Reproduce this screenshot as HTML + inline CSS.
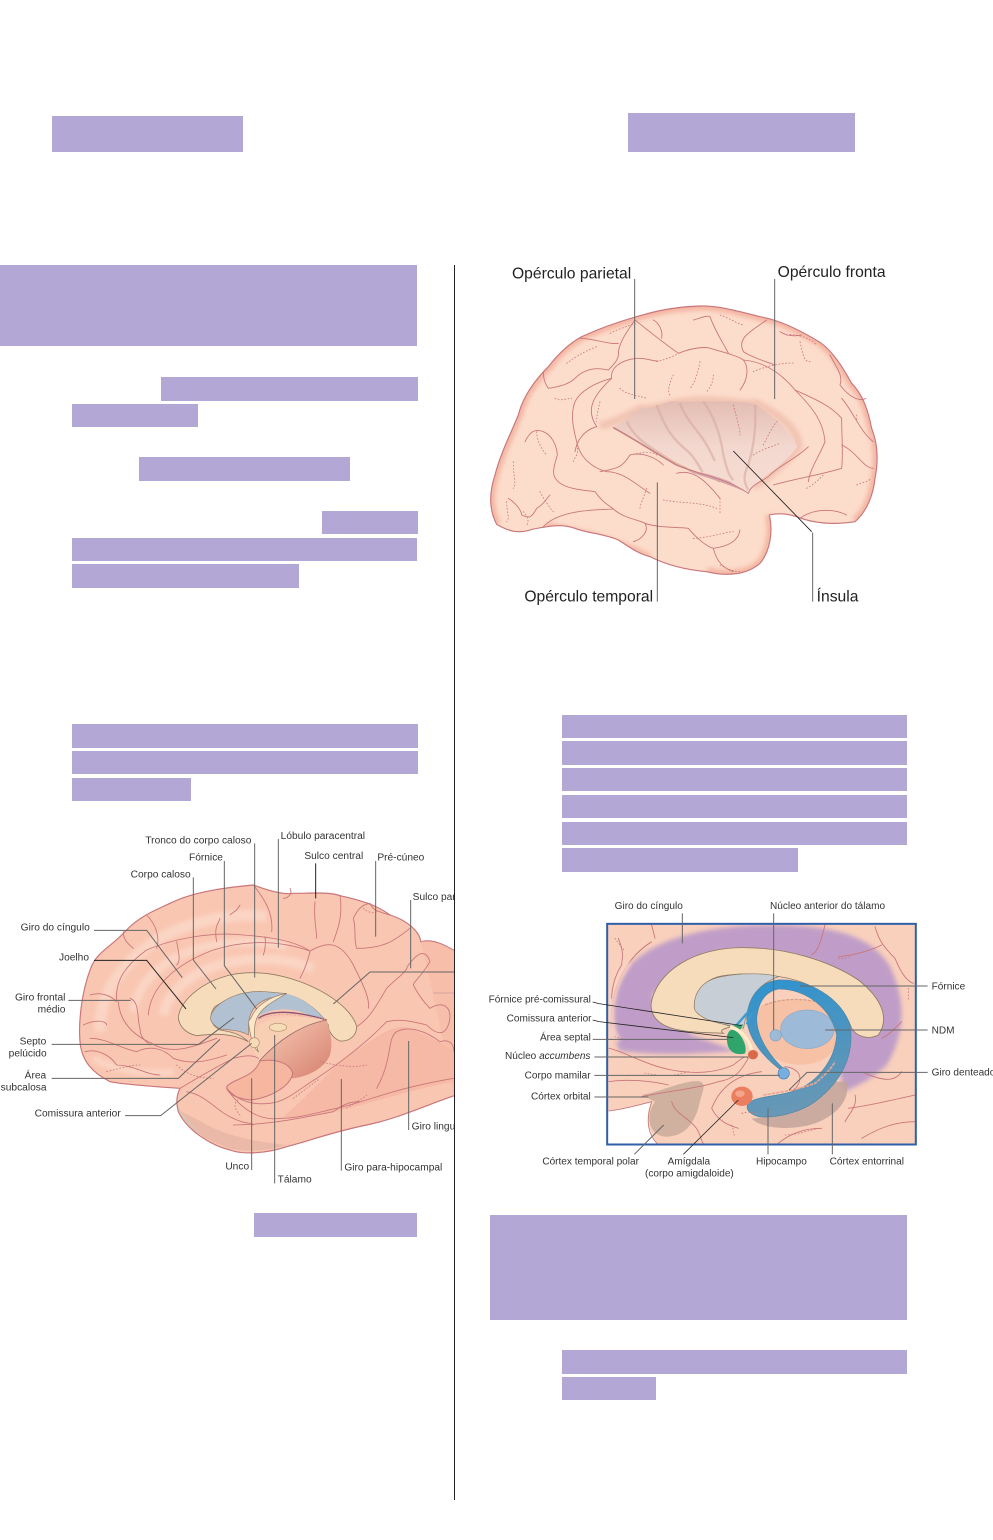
<!DOCTYPE html>
<html><head><meta charset="utf-8"><style>
html,body{margin:0;padding:0;background:#fff}
svg{display:block}
text{font-family:"Liberation Sans",sans-serif;fill:#333}
.r rect{fill:#b3a7d5}
.s{fill:none;stroke:#c9757a;stroke-width:2.6;stroke-linecap:round;stroke-linejoin:round}
.d{fill:none;stroke:#c9757a;stroke-width:2.4;stroke-dasharray:3 7;stroke-linecap:round}
.l{fill:none;stroke:#666;stroke-width:3}
.k{fill:none;stroke:#222;stroke-width:3}
</style></head><body>
<svg width="993" height="1540" viewBox="0 0 993 1540" xmlns="http://www.w3.org/2000/svg">
<defs>
<clipPath id="c1"><path id="b1p" d="M50 808C30 770 25 720 45 660C60 600 90 540 115 480C130 420 170 370 205 335C240 290 270 265 305 245C370 215 430 195 495 178C540 165 600 155 660 153C720 152 780 170 840 185C900 195 960 225 1020 262C1060 290 1090 340 1115 385C1150 420 1165 470 1175 520C1195 570 1195 620 1185 670C1180 720 1160 770 1125 800C1060 810 1000 805 950 785C920 775 890 775 868 780C880 830 870 890 840 925C800 960 740 965 680 950C620 945 560 930 510 905C470 895 440 870 415 855C370 835 320 835 285 820C240 805 200 815 160 822C110 840 80 825 50 808Z"/></clipPath>
<clipPath id="c2"><rect x="0" y="0" width="1362" height="1200"/></clipPath>
<clipPath id="c3"><rect x="368" y="88" width="922" height="659"/></clipPath>
<clipPath id="c4"><rect x="880" y="0" width="336" height="100"/></clipPath>
<filter id="b6" x="-20%" y="-20%" width="140%" height="140%"><feGaussianBlur stdDeviation="6"/></filter>
<filter id="b12" x="-20%" y="-20%" width="140%" height="140%"><feGaussianBlur stdDeviation="7"/></filter>
<linearGradient id="g2" x1="0" y1="0" x2="0" y2="1"><stop offset="0" stop-color="#e3bdb3"/><stop offset=".5" stop-color="#f3d8cf"/><stop offset="1" stop-color="#f6dcd2"/></linearGradient>
<linearGradient id="g4" x1="0" y1="0" x2="1" y2="1"><stop offset="0" stop-color="#f9cdb8"/><stop offset="1" stop-color="#d5806e"/></linearGradient>
<linearGradient id="g5" gradientUnits="userSpaceOnUse" x1="850" y1="250" x2="950" y2="660"><stop offset="0" stop-color="#2f93cf"/><stop offset=".45" stop-color="#4a94c0"/><stop offset="1" stop-color="#6b98b4"/></linearGradient>
</defs>

<g class="r">
<rect x="52" y="116" width="191" height="36"/><rect x="628" y="113" width="227" height="39"/>
<rect x="0" y="265" width="417" height="81"/><rect x="161" y="377" width="257" height="24"/>
<rect x="72" y="404" width="126" height="23"/><rect x="139" y="457" width="211" height="24"/>
<rect x="322" y="511" width="96" height="23"/><rect x="72" y="538" width="345" height="23"/>
<rect x="72" y="564" width="227" height="24"/><rect x="72" y="724" width="346" height="24"/>
<rect x="72" y="751" width="346" height="23"/><rect x="72" y="778" width="119" height="23"/>
<rect x="254" y="1213" width="163" height="24"/>
<rect x="562" y="715" width="345" height="23"/><rect x="562" y="741" width="345" height="24"/>
<rect x="562" y="768" width="345" height="23"/><rect x="562" y="795" width="345" height="23"/>
<rect x="562" y="822" width="345" height="23"/><rect x="562" y="848" width="236" height="24"/>
<rect x="490" y="1215" width="417" height="105"/><rect x="562" y="1350" width="345" height="24"/>
<rect x="562" y="1377" width="94" height="23"/>
</g>
<line x1="454.5" y1="265" x2="454.5" y2="1500" stroke="#222" stroke-width="1"/>

<!-- Lateral brain -->
<g transform="translate(480,255) scale(.33333)">
<use href="#b1p" fill="#fcdccb"/>
<g clip-path="url(#c1)">
<path d="M50 808C30 770 25 720 45 660C60 600 90 540 115 480C130 420 170 370 205 335C240 290 270 265 305 245C370 215 430 195 495 178C540 165 600 155 660 153C720 152 780 170 840 185C900 195 960 225 1020 262C1060 290 1090 340 1115 385C1150 420 1165 470 1175 520C1195 570 1195 620 1185 670C1180 720 1160 770 1125 800" fill="none" stroke="#f4b5a3" stroke-width="26" filter="url(#b6)"/>
<path d="M868 780C880 830 870 890 840 925C800 960 740 965 680 950" fill="none" stroke="#f3b7a3" stroke-width="26" filter="url(#b6)"/>
<path d="M200 810C300 830 400 850 510 905" fill="none" stroke="#f4b5a3" stroke-width="16" filter="url(#b6)"/>
<path d="M360 512C420 500 450 475 480 462C540 465 560 440 640 438C720 430 780 450 830 445C880 470 960 520 955 578C920 620 860 670 820 695" fill="none" stroke="#f2c4b3" stroke-width="24" filter="url(#b6)"/>
</g>
<!-- insula -->
<path d="M400 518C430 500 460 470 482 460C520 462 545 445 575 438C640 445 740 430 830 448C850 470 915 500 952 575C925 615 880 645 835 680C820 690 810 705 805 715C760 690 700 665 640 640C550 600 470 560 400 518Z" fill="url(#g2)"/>
<path d="M530 450C555 520 580 555 625 590C650 615 660 640 668 652M600 445C620 500 655 525 680 570C695 595 700 610 705 618" fill="none" stroke="#d6aaa0" stroke-width="7" opacity=".6"/>
<path d="M670 440C700 480 720 530 730 600C740 640 745 660 760 675M825 450C830 520 820 580 805 630C790 660 790 680 805 705M440 500C460 540 490 565 540 595C565 612 590 628 620 640" fill="none" stroke="#d6aaa0" stroke-width="7" opacity=".6"/>
<path d="M400 518C450 545 520 590 590 630C640 650 680 660 720 680" fill="none" stroke="#c99a95" stroke-width="5"/>
<path d="M620 645C650 650 690 655 750 680L800 712C750 690 690 670 640 655Z" fill="#d4a7ab"/>
<g class="s">
<use href="#b1p" style="stroke-width:3.4"/>
<path d="M400 518C450 545 520 590 590 630C660 660 740 670 805 715"/>
<path d="M805 715C815 685 850 680 870 660C900 630 950 610 985 575M880 690C950 670 1020 660 1085 640M1085 640C1090 590 1085 550 1085 490C1050 450 1000 430 945 405"/>
<path d="M350 515C310 525 290 560 285 590M350 515C320 470 330 430 395 370C390 340 420 315 470 310C500 308 520 320 535 318M595 295C620 285 650 275 685 278C720 290 770 300 790 315C810 340 800 380 780 405"/>
<path d="M790 315C850 320 900 350 945 405C1000 460 1030 500 1035 560C1020 600 990 640 985 680"/>
<path d="M300 250C340 250 390 270 415 265M415 290C420 260 440 230 465 195C520 240 560 270 595 295M415 290C420 310 400 330 385 345M545 250C550 220 530 200 520 195M640 195C660 190 680 180 690 185C710 240 740 280 745 295M860 195C810 230 770 250 790 290C820 310 860 320 885 330M900 230C930 250 960 240 965 240M1050 300C1070 340 1090 360 1080 390C1110 430 1140 440 1158 430"/>
<path d="M385 345C340 335 310 345 285 370C270 385 240 395 205 400C190 380 190 360 190 350M285 440C300 410 340 385 395 370M285 440C270 480 280 520 290 560C300 610 340 640 380 650C430 650 470 690 510 715M135 560C150 530 165 520 190 530C215 540 230 570 232 600C220 640 215 660 230 675C250 700 300 705 345 710C365 740 385 750 400 762C430 790 480 795 495 805C510 830 480 855 460 860M400 762C340 765 280 765 225 790C205 800 190 815 190 815M85 730C110 745 125 770 125 780C145 790 155 790 170 760C190 750 200 730 210 720M495 805C540 820 590 815 625 820C650 850 680 875 700 880C740 875 775 860 780 825M700 880C710 920 730 940 760 950"/>
<path d="M360 650C410 640 425 640 450 600C490 590 530 610 550 630M590 655C640 640 680 680 720 730M1085 570C1130 590 1150 640 1180 640M960 790C1000 760 1060 760 1100 780M1085 430C1120 470 1140 530 1180 560"/>
</g>
<g class="d">
<path d="M760 450C770 490 780 520 780 540M850 570C870 530 880 510 895 495M820 600C850 580 890 570 900 565M530 320C560 312 580 305 595 295M820 350C850 335 920 320 945 325M580 360C570 380 560 410 570 420M660 320C650 370 640 390 630 400M700 360C700 380 690 400 680 410M420 400C440 420 470 420 500 430M225 430C240 440 260 430 275 430M260 325C280 310 310 290 350 275M390 235C420 220 440 215 465 205M720 180C750 190 780 210 790 210M920 240C950 235 990 250 1010 270M960 260C970 300 970 320 990 320M170 530C170 560 190 590 200 600M100 620C100 660 110 690 100 700M180 710C190 730 210 760 220 770M80 740C80 770 90 790 80 800M130 770C140 780 150 800 140 810M290 570C300 600 280 610 280 620M550 735C600 745 660 740 710 760M720 730C720 770 720 770 720 780M640 850C680 850 740 830 760 830M720 930C740 940 760 950 780 950M500 700C490 730 480 750 480 760M980 700C1000 690 1020 670 1030 660M1130 690C1150 680 1170 680 1170 670M1130 480L1130 500M450 600C490 590 520 590 530 600M360 440C350 480 350 490 350 500"/>
</g>
<path class="l" d="M464 72V432M884 72V432M532 682V1040M998 1040V833"/>
<path d="M760 588L995 830" fill="none" stroke="#111" stroke-width="2.4"/>
<g font-size="47">
<text x="96" y="70" style="fill:#222">Opérculo parietal</text>
<text x="893" y="66" style="fill:#222" clip-path="url(#c4)">Opérculo frontal</text>
<text x="133" y="1040" style="fill:#222">Opérculo temporal</text>
<text x="1010" y="1040" style="fill:#222">Ínsula</text>
</g>
</g>

<!-- Medial brain -->
<g transform="translate(0,825) scale(.33333)">
<g clip-path="url(#c2)">
<path d="M240 650C235 590 245 500 272 430C290 380 340 360 375 320C420 270 480 250 510 235C570 205 650 190 760 180C800 195 850 210 880 205C930 205 990 200 1020 212C1080 225 1130 240 1170 270C1220 285 1260 320 1262 350C1300 340 1340 360 1400 400L1400 800C1300 830 1200 880 1100 900C1000 920 920 950 860 965C800 985 730 990 690 975C630 960 560 915 535 860C525 825 535 800 540 790C470 785 380 780 330 770C280 745 245 710 240 650Z" fill="#f9c6b1" stroke="#c9757a" stroke-width="3.5"/>
<g fill="none" stroke="#fcdccd" filter="url(#b6)" opacity=".7">
<path d="M300 620C295 500 380 400 480 340C570 290 700 260 800 275" stroke-width="34"/>
<path d="M400 560C410 480 480 410 580 375C680 345 790 345 860 365" stroke-width="26"/>
<path d="M490 570C505 490 590 430 700 410C790 395 850 400 940 430" stroke-width="30"/>
<path d="M280 700C350 740 450 750 520 740" stroke-width="20"/>
</g>
<path d="M1262 350C1300 345 1340 360 1400 400V800L1362 810C1340 700 1300 500 1262 350Z" fill="#f7bba6" opacity=".7"/>
<path d="M1060 680C1130 640 1180 590 1230 610C1300 640 1340 660 1362 680V770C1250 790 1130 830 1040 850C980 870 900 880 850 875C940 800 1000 720 1060 680Z" fill="#f6b9a5"/>
<path d="M535 855C555 910 625 950 695 972C760 985 830 970 860 960C760 950 680 930 620 900C590 880 560 870 535 855Z" fill="#eab9a8"/>
<path d="M533 840C540 880 570 905 600 925C570 890 545 870 533 840Z" fill="#d8c6b5"/>
<path d="M535 575C545 520 610 470 690 450C760 435 830 445 900 470C980 500 1055 550 1070 605C1070 635 1045 650 1020 648C1000 640 985 620 985 600C960 560 900 505 830 505C750 495 680 520 645 545C625 570 630 600 660 615C690 620 720 625 745 650C700 625 650 625 590 632C555 625 535 600 535 575Z" fill="#f7dcbc" stroke="#8f7a62" stroke-width="2.5"/>
<path d="M632 575C640 540 690 510 745 502C790 495 830 505 860 505C800 520 760 530 748 580C745 600 745 620 745 630C720 615 690 615 660 612C640 600 630 590 632 575Z" fill="#b2c1d2" stroke="#8f7a62" stroke-width="2"/>
<path d="M765 580C800 555 850 545 900 560C930 570 960 580 985 600C960 560 900 505 840 505C790 525 765 550 765 580Z" fill="#b2c1d2"/>
<path d="M778 710C760 680 745 640 770 610C800 570 880 570 980 585C900 610 830 640 778 710Z" fill="#f9cfb4"/>
<path d="M755 575C770 540 810 515 860 505C830 525 790 540 770 580C760 610 760 640 775 680C760 670 750 630 745 590Z" fill="#fbe6c8" stroke="#8f7a62" stroke-width="2"/>
<path d="M775 580C810 555 880 555 980 585" fill="none" stroke="#8a5470" stroke-width="4"/>
<path d="M775 580C810 560 880 560 975 580" fill="none" stroke="#e9a0a0" stroke-width="3" stroke-dasharray="4 4" transform="translate(0,4)"/>
<ellipse cx="834" cy="607" rx="26" ry="12" fill="#f7dcb8" stroke="#b09070" stroke-width="2"/>
<circle cx="763" cy="653" r="15" fill="#f7dcb8" stroke="#b08a70" stroke-width="2"/>
<path d="M778 710C830 650 900 600 980 585C990 620 1000 650 990 690C970 740 900 760 875 760C870 720 840 705 778 710Z" fill="url(#g4)"/>
<path d="M778 708C830 650 900 600 980 585" fill="none" stroke="#9a6a68" stroke-width="2.5"/>
<path d="M780 708C830 700 870 715 878 745C870 790 800 820 750 825C700 820 680 800 680 785C700 760 760 760 780 708Z" fill="#f7b6a0" stroke="#c9757a" stroke-width="3"/>
<g class="s">
<path d="M350 525C345 460 385 415 440 375C520 340 640 320 730 330C800 335 880 345 930 378C980 350 1020 345 1060 420C1090 480 1110 520 1105 550"/>
<path d="M445 570C450 490 520 420 640 375C720 350 820 340 930 378"/>
<path d="M355 530C360 600 410 635 455 655C510 690 570 670 650 640M540 790C590 760 640 730 700 700C740 690 760 690 775 700"/>
<path d="M1070 605C1110 580 1130 540 1160 490C1190 460 1220 440 1222 425C1260 370 1280 380 1290 410C1260 460 1240 470 1240 480C1260 520 1280 540 1290 550C1340 520 1360 560 1345 600C1330 640 1300 620 1280 600C1240 590 1200 580 1160 590C1130 620 1110 640 1060 680C1010 720 980 740 950 760C900 790 860 830 810 835C770 840 720 835 680 790"/>
<path d="M680 790C720 850 780 890 840 880C900 880 960 860 1010 850C1100 830 1180 790 1362 760"/>
<path d="M560 800C620 810 650 860 700 880C740 900 750 890 760 900M700 900C800 900 900 880 1000 860C1040 830 1060 830 1080 830M1130 790C1180 700 1160 640 1190 620C1230 600 1280 620 1320 650C1350 640 1362 660 1362 680"/>
<path d="M1070 370C1150 370 1180 350 1230 310M1070 370C1060 340 1070 320 1060 280C1070 260 1080 240 1110 235C1120 260 1140 260 1170 270M930 380C920 420 910 440 900 460M1020 210C1030 280 1010 320 1000 350M945 230C940 290 950 310 950 340M870 190C880 210 860 220 850 220M760 180C800 230 820 270 815 320M650 350C640 300 660 290 660 280M530 350C540 400 540 410 530 420M790 390C800 360 795 340 795 335"/>
<path d="M440 270C470 300 480 340 470 370M370 320C370 350 390 360 400 370M270 510C300 500 330 510 350 530M250 600C290 580 320 590 320 600M255 680C290 670 330 690 350 720C400 720 440 750 480 750M270 640C320 640 360 670 410 680C450 660 490 670 520 700C570 720 620 710 680 690M390 520C420 530 410 580 420 610C420 640 440 650 450 660M720 240C710 260 700 260 690 270"/>
</g>
<g class="d">
<path d="M530 720C560 750 600 760 640 760M960 710C1000 720 1060 730 1100 720M720 870C700 850 700 830 720 820M1040 850C1070 830 1090 820 1100 810M320 740C360 730 390 720 420 720M880 820C920 790 960 760 960 760M1090 250C1110 270 1130 260 1130 260"/>
</g>
<path d="M1300 504H1362" stroke="#c99" stroke-width="2.5"/>
</g>
<g class="l">
<path d="M282 316H440L547 458"/>
<path d="M580 157V405L648 492"/>
<path d="M673 108V422L770 552"/>
<path d="M764 55V458"/>
<path d="M835 42V368"/>
<path d="M1127 108V335"/>
<path d="M1232 225V430"/>
<path d="M1362 441H1110L1000 537"/>
<path d="M205 526H392"/>
<path d="M155 658H596L702 578"/>
<path d="M155 760H535L660 643"/>
<path d="M375 872H482L755 655"/>
<path d="M755 760V1035"/>
<path d="M824 630V1075"/>
<path d="M1024 762V1037"/>
<path d="M1226 648V915"/>
</g>
<path class="k" d="M282 406H440L558 552M947 115V220"/>
<g font-size="30.6">
<text x="436" y="55">Tronco do corpo caloso</text>
<text x="842" y="42">Lóbulo paracentral</text>
<text x="567" y="107">Fórnice</text>
<text x="913" y="102">Sulco central</text>
<text x="1132" y="107">Pré-cúneo</text>
<text x="392" y="157">Corpo caloso</text>
<text x="1238" y="225">Sulco par</text>
<text x="62" y="317">Giro do cíngulo</text>
<text x="177" y="407">Joelho</text>
<text x="45" y="527">Giro frontal</text>
<text x="113" y="563">médio</text>
<text x="59" y="658">Septo</text>
<text x="26" y="695">pelúcido</text>
<text x="74" y="761">Área</text>
<text x="2" y="797">subcalosa</text>
<text x="104" y="874">Comissura anterior</text>
<text x="676" y="1034">Unco</text>
<text x="833" y="1072">Tálamo</text>
<text x="1033" y="1036">Giro para-hipocampal</text>
<text x="1235" y="913">Giro lingu</text>
</g>
</g>
<rect x="455" y="820" width="30" height="370" fill="#fff"/>

<!-- Limbic diagram -->
<g transform="translate(485,895) scale(.33333)">
<g clip-path="url(#c3)">
<rect x="365" y="85" width="930" height="665" fill="#f9d0bc"/>
<path d="M405 468C365 400 375 280 440 205C530 120 700 85 900 90C1040 95 1160 120 1215 215C1265 320 1260 420 1205 510C1165 550 1115 575 1075 590L1060 500L1000 200L700 170L500 300L620 420L760 470C700 465 590 490 405 468Z" fill="#bf9dc8" filter="url(#b12)"/>
<path d="M380 400C370 290 420 190 500 140" fill="none" stroke="#c9757a" stroke-width="3"/>
<path d="M398 440C360 370 375 270 430 200" fill="none" stroke="#f9d4c4" stroke-width="18" filter="url(#b6)"/>
<path d="M498 330C510 230 630 155 780 158C900 158 1030 195 1120 255C1190 310 1215 370 1180 420C1150 435 1115 425 1100 400C1080 340 1020 290 960 265C880 235 770 230 700 245C650 260 625 300 628 340C650 370 690 380 740 395C720 400 700 405 715 415C640 410 500 420 498 330Z" fill="#f7dcbc" stroke="#8f7a62" stroke-width="2.5"/>
<path d="M628 340C625 295 650 255 710 245C770 232 850 235 880 245C840 260 800 290 790 340C780 365 780 385 775 400C730 390 690 385 660 370C640 360 630 350 628 340Z" fill="#c8ced6" stroke="#8f7a62" stroke-width="2"/>
<path d="M830 330C900 310 1000 310 1060 340C1080 400 1070 470 1000 500C940 520 860 510 825 440C810 400 810 360 830 330Z" fill="#f7c1a5"/>
<path d="M840 330C900 305 980 310 1050 335" fill="none" stroke="#d9a088" stroke-width="4" stroke-dasharray="10 3"/>
<ellipse cx="967" cy="403" rx="80" ry="58" fill="#9dbbd8" stroke="#8fa9c4" stroke-width="2"/>
<circle cx="872" cy="421" r="17" fill="#9dbbd8" stroke="#7fa1c6" stroke-width="2"/>
<path d="M738 405C760 400 790 450 780 475C760 482 735 475 728 450C722 425 728 410 738 405Z" fill="#2fa56b"/>
<path d="M745 390L775 388L765 405Z" fill="#2fa56b"/>
<path d="M735 395C770 405 790 430 800 465" fill="none" stroke="#fbeec8" stroke-width="10"/>
<ellipse cx="804" cy="479" rx="15" ry="14" fill="#d8694a"/>
<path d="M470 600C530 590 580 560 640 558C670 565 650 590 640 640C620 700 590 725 540 725C490 720 480 660 510 620C490 610 480 605 470 600Z" fill="#c9aa9a" opacity=".85"/>
<path d="M370 648C420 640 470 630 500 620C480 660 485 700 520 750H368Z" fill="#fff"/>
<path d="M800 670C860 670 960 630 1030 560L1085 560C1100 620 1040 680 950 695C890 705 820 695 800 670Z" fill="#c3a59a" opacity=".85"/>
<path d="M895 530C850 500 790 440 785 370C790 300 830 260 880 255C970 250 1070 310 1095 390C1110 480 1070 560 990 620C940 655 870 670 820 665C790 655 780 640 790 625C810 605 870 605 920 590C990 570 1050 500 1055 420C1040 340 960 280 880 282C840 290 820 320 815 370C815 430 860 490 900 525Z" fill="url(#g5)" stroke="#4d86a8" stroke-width="2"/>
<path d="M835 600C860 595 920 590 990 565C1020 540 1040 520 1050 500" fill="none" stroke="#e9a897" stroke-width="5" stroke-dasharray="10 3"/>
<path d="M755 390L790 350M785 388L800 355" fill="none" stroke="#3d9bd0" stroke-width="7"/>
<circle cx="896" cy="535" r="17" fill="#77aee0" stroke="#3d80b0" stroke-width="2"/>
<ellipse cx="771" cy="604" rx="32" ry="29" fill="#ea7e5f"/>
<ellipse cx="765" cy="596" rx="14" ry="10" fill="#f4a58c"/>
<g class="s">
<path d="M372 460C420 470 480 510 560 525C640 540 700 530 745 510C770 490 780 480 790 490C770 520 760 550 700 560C640 580 540 590 470 605"/>
<path d="M372 560C430 550 510 560 550 570M372 648C430 640 460 630 500 620"/>
<path d="M500 620C480 680 490 720 520 750M560 620C570 660 620 670 640 710C650 730 650 745 660 750"/>
<path d="M680 640C700 590 740 540 830 530M680 640C700 680 730 690 760 700M900 515C950 520 960 560 920 590"/>
<path d="M400 130C420 180 410 190 410 210C390 240 380 280 380 310M500 90L510 130M1020 90C1010 130 1000 170 980 180M1170 95C1180 130 1190 150 1230 190C1250 240 1270 260 1285 265M1060 185C1120 180 1170 160 1190 150M1290 600C1240 610 1170 630 1090 640M1110 600C1120 630 1090 660 1080 680M1250 530C1230 560 1200 560 1140 535M1290 680C1230 680 1180 700 1130 730M1250 380C1220 410 1210 420 1190 430M880 745C910 720 950 700 1010 700"/>
</g>
<g class="d">
<path d="M420 435L390 425M610 530C550 550 520 540 480 535M1270 280V320M770 655C790 650 800 650 810 655M740 690C750 710 740 720 750 720M900 720C930 720 960 710 1000 700M1060 190C1080 195 1090 185 1100 180M390 130L420 170"/>
</g>
</g>
<rect x="366.500" y="86.500" width="926" height="662" fill="none" stroke="#2f5fa8" stroke-width="6"/>
<g class="l">
<path d="M592 55V145"/>
<path d="M866 55V405"/>
<path d="M945 273H1328"/>
<path d="M1020 405H1328"/>
<path d="M912 585L966 532H1328"/>
<path d="M323 433H730"/>
<path d="M328 486H790"/>
<path d="M328 541H885"/>
<path d="M328 606H490"/>
<path d="M448 778L536 690"/>
<path d="M849 778V640"/>
<path d="M1042 778V625"/>
</g>
<g style="fill:none;stroke:#222;stroke-width:2.4">
<path d="M323 321L342 326L770 392"/>
<path d="M323 375L342 380L745 428"/>
<path d="M595 778L760 615"/>
</g>
<g font-size="30.2">
<text x="389" y="42">Giro do cíngulo</text>
<text x="855" y="42">Núcleo anterior do tálamo</text>
<text x="1340" y="283">Fórnice</text>
<text x="1340" y="415">NDM</text>
<text x="1340" y="541">Giro denteado</text>
<text x="11" y="323">Fórnice pré-comissural</text>
<text x="65" y="379">Comissura anterior</text>
<text x="165" y="436">Área septal</text>
<text x="60" y="492">Núcleo <tspan font-style="italic">accumbens</tspan></text>
<text x="119" y="550">Corpo mamilar</text>
<text x="138" y="614">Córtex orbital</text>
<text x="172" y="809">Córtex temporal polar</text>
<text x="548" y="809">Amígdala</text>
<text x="480" y="845">(corpo amigdaloide)</text>
<text x="813" y="809">Hipocampo</text>
<text x="1034" y="809">Córtex entorrinal</text>
</g>
</g>
<line x1="454.5" y1="820" x2="454.5" y2="1200" stroke="#222" stroke-width="1"/>
</svg>
</body></html>
